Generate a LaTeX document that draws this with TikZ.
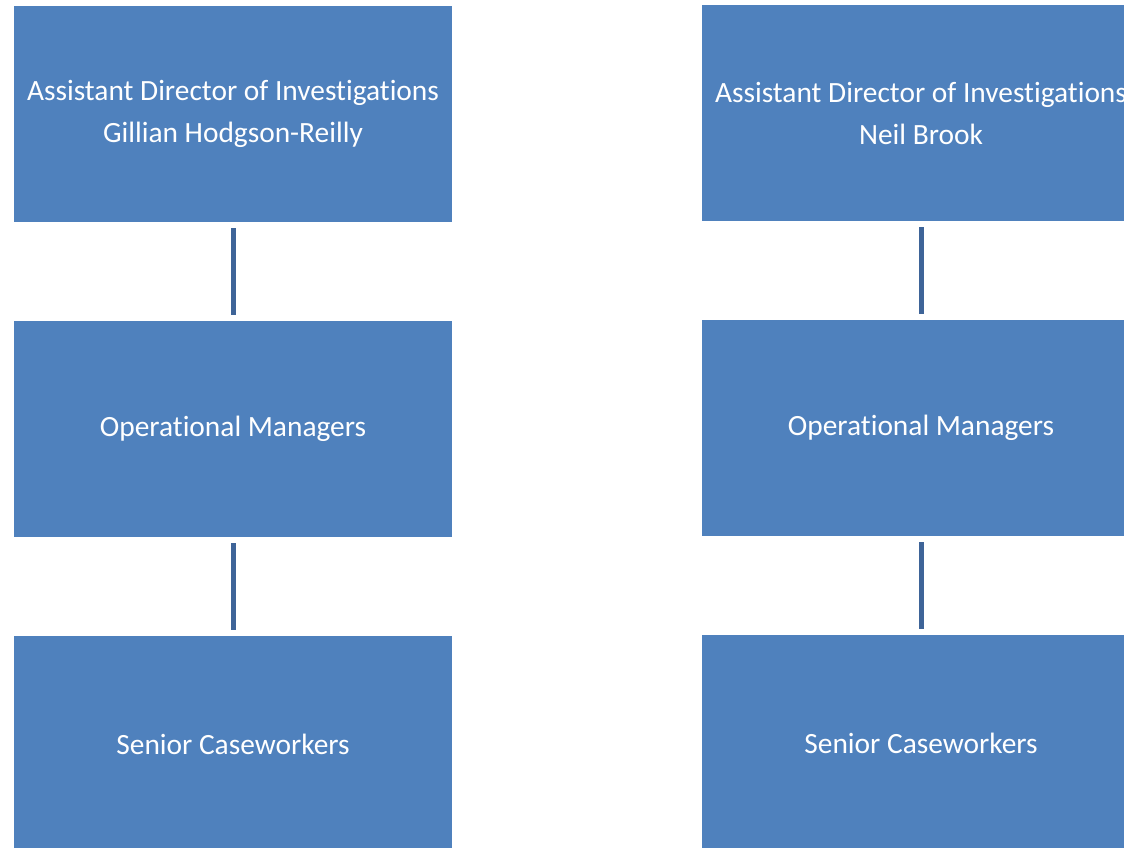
\documentclass[tikz,border=0pt]{standalone}
\usepackage{fontspec}
\setmainfont{Carlito}[Ligatures={NoCommon,NoDiscretionary,NoRare}]
\definecolor{boxblue}{RGB}{79,129,189}
\definecolor{linkblue}{RGB}{62,100,152}
\begin{document}
\begin{tikzpicture}[x=1pt,y=-1pt,
  orgbox/.style={fill=boxblue,draw=none,minimum width=438pt,minimum height=216pt,inner sep=0pt,
    text=white,align=center,font=\fontsize{29.4}{42}\selectfont},
  link/.style={draw=linkblue,line width=5pt}]
\useasboundingbox (0,0) rectangle (1124,848);
\clip (0,0) rectangle (1124,848);
\node[orgbox] (l1) at (233,114) {Assistant Director of Investigations\\Gillian Hodgson-Reilly};
\node[orgbox] (l2) at (233,429) {Operational Managers};
\node[orgbox] (l3) at (233,744) {Senior Caseworkers};
\node[orgbox] (r1) at (921,113) {Assistant Director of Investigations\\Neil Brook};
\node[orgbox] (r2) at (921,428) {Operational Managers};
\node[orgbox] (r3) at (921,743) {Senior Caseworkers};
\draw[link] ([yshift=-6pt]l1.south) -- ([yshift=6pt]l2.north);
\draw[link] ([yshift=-6pt]l2.south) -- ([yshift=6pt]l3.north);
\draw[link] ([yshift=-6pt]r1.south) -- ([yshift=6pt]r2.north);
\draw[link] ([yshift=-6pt]r2.south) -- ([yshift=6pt]r3.north);
\end{tikzpicture}
\end{document}
